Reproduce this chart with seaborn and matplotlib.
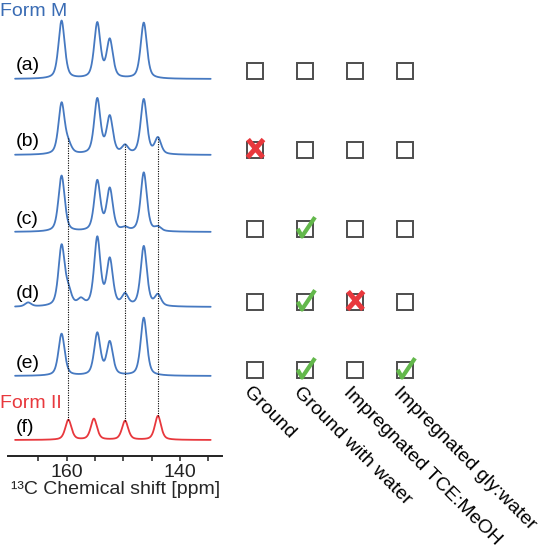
import numpy as np
import pandas as pd
import matplotlib
matplotlib.use("Agg")
import matplotlib.pyplot as plt
import seaborn as sns
from matplotlib.path import Path

# ---------------- data ----------------
sample_labels = ["(a)", "(b)", "(c)", "(d)", "(e)", "(f)"]
conditions = ["Ground", "Ground with water", "Impregnated TCE:MeOH", "Impregnated gly:water"]
# "" = empty box, "v" = green tick, "x" = red cross ; rows (a)-(e)
marks_a = ["", "", "", ""]
marks_b = ["x", "", "", ""]
marks_c = ["", "v", "", ""]
marks_d = ["", "v", "x", ""]
marks_e = ["", "v", "", "v"]

# Form M peak positions (ppm) and heights
formM_shifts = [166.8, 160.9, 159.7, 157.5, 154.6, 152.4, 149.7, 146.4, 143.9]
heights_a = [0, 58, 0, 0, 55, 38, 0, 56, 0]
heights_b = [0, 51, 8, 0, 55, 37, 8, 55, 16]
heights_c = [0, 56, 0, 0, 50, 42, 3, 59, 4]
heights_d = [4, 60, 13, 6, 68, 46, 11, 60, 11]
heights_e = [0, 42, 0, 0, 42, 33, 0, 58, 0]
# Form II
formII_shifts = [159.7, 155.2, 149.7, 143.9]
heights_f = [20, 21, 19, 24]
guide_shifts = [159.7, 149.7, 143.9]

# ---------------- style ----------------
sns.set_style("white")
plt.rcParams["font.family"] = ["Liberation Sans", "DejaVu Sans"]

BLUE = "#4679c1"
BLUE_TXT = "#3a6cb4"
RED = "#e8383d"
GREEN = "#63b84b"
BOX = "#4d4d4d"
FS = 14

W, H = 544, 550
fig = plt.figure(figsize=(W / 100, H / 100), dpi=100)

# spectra axes: pixel-like intensity units
ax_left, ax_right, ax_bottom_px = 8.3, 222, 456
ax = fig.add_axes([ax_left / W, 1 - ax_bottom_px / H, (ax_right - ax_left) / W, ax_bottom_px / H])
ax.set_ylim(0, ax_bottom_px)
ax.set_xlim(170.3, 132.6)

ppm = np.linspace(169.1, 134.6, 900)


def spectrum(shifts, heights, fwhm=1.3, eta=0.5):
    y = np.zeros_like(ppm)
    for c, h in zip(shifts, heights):
        d = (ppm - c) / (fwhm / 2)
        y += h * (eta / (1 + d ** 2) + (1 - eta) * np.exp(-np.log(2) * d ** 2))
    return y


baselines_px = [79, 155, 232, 307, 376, 440]
series = [(formM_shifts, heights_a), (formM_shifts, heights_b), (formM_shifts, heights_c),
          (formM_shifts, heights_d), (formM_shifts, heights_e), (formII_shifts, heights_f)]
curves = []
for lab, base, (sh, hs) in zip(sample_labels, baselines_px, series):
    off = ax_bottom_px - base
    y = spectrum(sh, hs) + off
    curves.append(y)
    df = pd.DataFrame({"ppm": ppm, "I": y})
    sns.lineplot(data=df, x="ppm", y="I", ax=ax, color=RED if lab == "(f)" else BLUE,
                 lw=1.3, legend=False, sort=False)
    ax.text(168.9, off + 13, lab, ha="left", va="center", fontsize=FS, color="black")

# dotted guide lines from spectrum (b) down to spectrum (f)
for s in guide_shifts:
    y_top = np.interp(s, ppm[::-1], curves[1][::-1])
    y_bot = np.interp(s, ppm[::-1], curves[5][::-1])
    ax.plot([s, s], [y_bot, y_top], color="black", lw=0.8, ls=(0, (1, 1.2)))

ax.set_xticks([160, 140])
ax.set_xticks([165, 155, 150, 145, 135], minor=True)
ax.tick_params(axis="x", which="both", direction="out", length=3.5, width=1.1,
               labelsize=FS, pad=2, bottom=True, colors="#222222")
ax.set_yticks([])
ax.set_xlabel("¹³C Chemical shift [ppm]", fontsize=FS, labelpad=0)
ax.set_ylabel("")
for sp in ["top", "left", "right"]:
    ax.spines[sp].set_visible(False)
ax.spines["bottom"].set_linewidth(1.4)
ax.spines["bottom"].set_color("#222222")

fig.text(0, 1 - 11 / H, "Form M", color=BLUE_TXT, fontsize=14, ha="left", va="center")
fig.text(0, 1 - 403 / H, "Form II", color=RED, fontsize=14, ha="left", va="center")

# ---------------- checkbox grid ----------------
gx0, gx1 = 230, 430
axg = fig.add_axes([gx0 / W, 0, (gx1 - gx0) / W, 1])
axg.set_xlim(-0.5, 3.5)
axg.set_ylim(H, 0)
axg.axis("off")
row_y = [70.5, 150, 229, 302, 370]
all_marks = [marks_a, marks_b, marks_c, marks_d, marks_e]

tick_path = Path([(-7.8, 0.7), (-3.5, -7.0), (9.5, 12.3)],
                 [Path.MOVETO, Path.LINETO, Path.LINETO])
cross_path = Path([(-7.5, 10.0), (7.5, -8.0), (8.0, 10.0), (-8.0, -8.0)],
                  [Path.MOVETO, Path.LINETO, Path.MOVETO, Path.LINETO])
px2pt = 0.72

for r, (yv, row) in enumerate(zip(row_y, all_marks)):
    for c, m in enumerate(row):
        axg.plot([c], [yv], marker="s", ms=15.5 * px2pt, mfc="none", mec=BOX, mew=1.4, ls="none")
        if m == "v":
            axg.plot([c], [yv], marker=tick_path, ms=2 * 12.3 * px2pt, mfc="none", mec=GREEN,
                     mew=3.0, ls="none")
        elif m == "x":
            axg.plot([c], [yv - 1], marker=cross_path, ms=2 * 10 * px2pt, mfc="none", mec=RED,
                     mew=3.6, ls="none")

for c, name in enumerate(conditions):
    axg.text(c - 0.06, 384, name, rotation=-45, rotation_mode="anchor", ha="left", va="top",
             fontsize=FS, color="black")

fig.savefig("out.png", dpi=100)
